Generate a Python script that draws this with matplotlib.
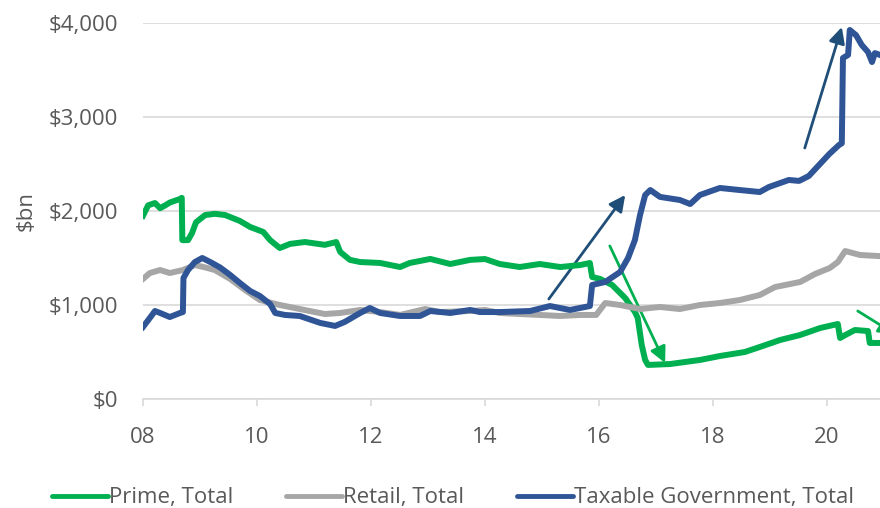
import matplotlib
matplotlib.use("Agg")
import matplotlib.pyplot as plt
from matplotlib.patches import FancyArrowPatch
from matplotlib.ticker import FuncFormatter

plt.rcParams['font.family'] = ['Open Sans', 'DejaVu Sans']

# Prime, Total
prime_x = [2008.00, 2008.09, 2008.21, 2008.30, 2008.39, 2008.47, 2008.65, 2008.68, 2008.69, 2008.79,
           2008.86, 2008.93, 2009.09, 2009.26, 2009.44, 2009.70, 2009.88, 2010.11, 2010.23, 2010.40,
           2010.58, 2010.84, 2011.19, 2011.39, 2011.46, 2011.63, 2011.81, 2012.16, 2012.51, 2012.68,
           2013.04, 2013.39, 2013.74, 2014.00, 2014.26, 2014.61, 2014.96, 2015.32, 2015.67, 2015.84,
           2015.88, 2016.02, 2016.23, 2016.46, 2016.63, 2016.68, 2016.75, 2016.81, 2016.86, 2017.25,
           2017.77, 2018.12, 2018.56, 2018.82, 2019.18, 2019.53, 2019.88, 2020.19, 2020.23, 2020.32,
           2020.49, 2020.72, 2020.75, 2020.93]
prime_y = [1950, 2060, 2085, 2030, 2060, 2090, 2128, 2140, 1690, 1690,
           1765, 1880, 1957, 1970, 1957, 1894, 1830, 1777, 1690, 1606,
           1650, 1670, 1640, 1670, 1564, 1480, 1457, 1447, 1404, 1447,
           1490, 1436, 1480, 1489, 1436, 1404, 1436, 1404, 1425, 1447,
           1298, 1277, 1213, 1074, 926, 862, 574, 415, 362, 372,
           415, 457, 500, 553, 628, 681, 755, 798, 649, 680,
           734, 723, 596, 596]

# Retail, Total
retail_x = [2008.00, 2008.12, 2008.30, 2008.47, 2008.70, 2008.91, 2009.09, 2009.26, 2009.53, 2009.79,
            2010.05, 2010.40, 2010.75, 2011.19, 2011.46, 2011.81, 2012.16, 2012.51, 2012.95, 2013.21,
            2013.74, 2014.00, 2014.26, 2014.61, 2014.96, 2015.32, 2015.67, 2015.95, 2016.11, 2016.37,
            2016.72, 2017.07, 2017.42, 2017.77, 2018.12, 2018.47, 2018.82, 2019.09, 2019.35, 2019.53,
            2019.79, 2020.05, 2020.19, 2020.32, 2020.58, 2020.93]
retail_y = [1277, 1340, 1372, 1340, 1372, 1425, 1400, 1372, 1277, 1160,
            1053, 1000, 957, 904, 915, 947, 925, 894, 957, 925,
            936, 947, 915, 904, 894, 883, 894, 894, 1021, 1000,
            957, 979, 957, 1000, 1021, 1053, 1106, 1191, 1223, 1245,
            1330, 1394, 1457, 1574, 1532, 1520]

# Taxable Government, Total
govt_x = [2008.00, 2008.12, 2008.21, 2008.30, 2008.47, 2008.65, 2008.70, 2008.71, 2008.79, 2008.91,
          2009.04, 2009.18, 2009.35, 2009.53, 2009.70, 2009.88, 2010.05, 2010.23, 2010.32, 2010.49,
          2010.75, 2011.11, 2011.37, 2011.54, 2011.81, 2011.98, 2012.16, 2012.51, 2012.86, 2013.04,
          2013.39, 2013.74, 2013.91, 2014.26, 2014.79, 2015.14, 2015.49, 2015.84, 2015.88, 2016.11,
          2016.37, 2016.51, 2016.63, 2016.72, 2016.81, 2016.90, 2017.07, 2017.42, 2017.60, 2017.77,
          2018.12, 2018.47, 2018.82, 2018.98, 2019.33, 2019.51, 2019.68, 2019.86, 2020.04, 2020.21,
          2020.26, 2020.28, 2020.37, 2020.40, 2020.51, 2020.61, 2020.72, 2020.79, 2020.84, 2020.93]
govt_y = [766, 862, 936, 915, 872, 915, 925, 1287, 1372, 1457,
          1500, 1457, 1400, 1319, 1234, 1149, 1096, 1010, 915, 894,
          883, 809, 777, 820, 915, 968, 915, 883, 883, 936,
          915, 947, 925, 925, 936, 989, 947, 989, 1213, 1245,
          1351, 1500, 1691, 1957, 2170, 2223, 2150, 2117, 2074, 2170,
          2245, 2223, 2202, 2255, 2330, 2320, 2372, 2489, 2606, 2702,
          2720, 3628, 3660, 3926, 3870, 3766, 3691, 3585, 3680, 3660]

# annotation arrows: start / end in data units
arrow_x0 = [2015.12, 2016.19, 2019.61, 2020.54]
arrow_y0 = [1064, 1628, 2670, 936]
arrow_x1 = [2016.46, 2017.16, 2020.26, 2021.19]
arrow_y1 = [2170, 383, 3957, 691]
arrow_colors = ['#1F4E79', '#00B050', '#1F4E79', '#00B050']

xticks = [2008, 2010, 2012, 2014, 2016, 2018, 2020]
xtick_labels = ['08', '10', '12', '14', '16', '18', '20']
yticks = [0, 1000, 2000, 3000, 4000]

fig = plt.figure(figsize=(8.8, 5.08), dpi=100)
ax = fig.add_axes([0.1625, 0.2146, 0.8375, 0.7401])

ax.plot(prime_x, prime_y, color='#00B050', lw=4.3, label='Prime, Total', solid_joinstyle='round')
ax.plot(retail_x, retail_y, color='#A6A6A6', lw=4.3, label='Retail, Total', solid_joinstyle='round')
ax.plot(govt_x, govt_y, color='#2F5597', lw=4.3, label='Taxable Government, Total', solid_joinstyle='round')

for x0, y0, x1, y1, c in zip(arrow_x0, arrow_y0, arrow_x1, arrow_y1, arrow_colors):
    arr = FancyArrowPatch((x0, y0), (x1, y1), arrowstyle='-|>', mutation_scale=24,
                          color=c, lw=2, shrinkA=0, shrinkB=0)
    ax.add_patch(arr)

ax.set_xlim(2008, 2020.93)
ax.set_ylim(0, 4000)
ax.set_xticks(xticks)
ax.set_xticklabels(xtick_labels)
ax.set_yticks(yticks)
ax.yaxis.set_major_formatter(FuncFormatter(lambda v, p: '${:,.0f}'.format(v)))
ax.grid(axis='y', color='#D9D9D9', lw=1.2)
ax.set_axisbelow(True)
for s in ['left', 'right', 'top']:
    ax.spines[s].set_visible(False)
ax.spines['bottom'].set_color('#D9D9D9')
ax.spines['bottom'].set_linewidth(1.2)
ax.tick_params(axis='x', colors='#D9D9D9', length=5, width=1.2, pad=15, labelsize=16, labelcolor='#595959')
ax.tick_params(axis='y', length=0, pad=18, labelsize=16, labelcolor='#595959')
ax.set_ylabel('$bn', fontsize=16, color='#595959')
ax.yaxis.set_label_coords(-0.144, 0.5)

leg = fig.legend(loc='lower center', bbox_to_anchor=(0.515, -0.04), ncol=3, frameon=False,
                 fontsize=16, handlelength=2.5, handletextpad=0.05, columnspacing=2.4,
                 labelcolor='#595959')
for ln in leg.get_lines():
    ln.set_linewidth(3.5)
    ln.set_solid_capstyle('round')

plt.savefig('out.png', dpi=100)
